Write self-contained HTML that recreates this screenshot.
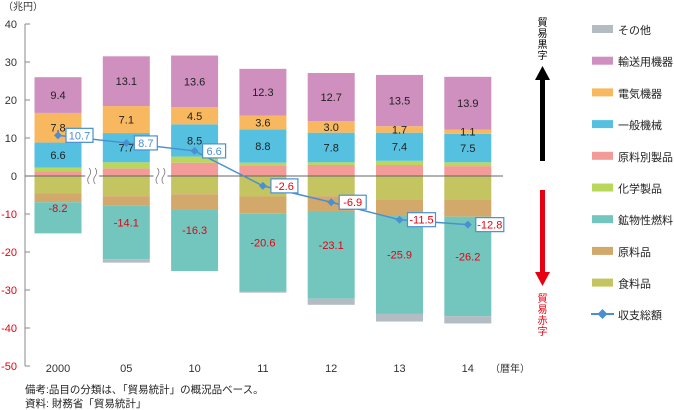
<!DOCTYPE html>
<html><head><meta charset="utf-8"><style>
body{margin:0;background:#fff;}
svg{display:block;font-family:"Liberation Sans","Noto Sans CJK JP",sans-serif;}
</style></head><body>
<svg id="chart" width="674" height="410" viewBox="0 0 674 410" xmlns="http://www.w3.org/2000/svg"></svg>
<script>
const categories=["2000","05","10","11","12","13","14"];
const posNames=["原料別製品","化学製品","一般機械","電気機器","輸送用機器"];
const genMach=[6.6,7.7,8.5,8.8,7.8,7.4,7.5];
const elecMach=[7.8,7.1,4.5,3.6,3.0,1.7,1.1];
const transEq=[9.4,13.1,13.6,12.3,12.7,13.5,13.9];
const mfgGoods=[1.2,2.0,3.5,2.8,2.9,2.9,2.6];
const chemicals=[1.0,1.6,1.6,0.7,0.7,1.1,1.0];
const foods=[-4.6,-5.3,-4.8,-5.4,-5.3,-6.1,-6.1];
const rawMat=[-2.3,-2.5,-3.9,-4.4,-3.9,-4.3,-4.6];
const fuels=[-8.2,-14.1,-16.3,-20.6,-23.1,-25.9,-26.2];
const others=[0,-0.9,0,-0.3,-1.6,-2.0,-1.9];
const balance=[10.7,8.7,6.6,-2.6,-6.9,-11.5,-12.8];
const yTicks=[40,30,20,10,0,-10,-20,-30,-40,-50];

const svg=document.getElementById('chart');
const NS='http://www.w3.org/2000/svg';
function mk(t,a,p){const e=document.createElementNS(NS,t);for(const k in a)e.setAttribute(k,a[k]);(p||svg).appendChild(e);return e;}
const y=v=>176-v*3.8;
const x=i=>58+i*68.3;
const BW=47;
const C={grey:"#b4bcc3",purple:"#cf8fbf",orange:"#f8b860",blue:"#55c0e0",pink:"#f29b98",lime:"#b9d85a",teal:"#73c6bd",tan:"#d3a86b",olive:"#c4c460"};

// y axis
const ax=mk('line',{x1:25,y1:24,x2:25,y2:366,stroke:'#888','stroke-width':1});

yTicks.forEach(v=>{
  const l=mk('line',{x1:25,x2:30,y1:y(v),y2:y(v),stroke:'#888'});
  
  const t=mk('text',{x:17,y:y(v)+4,'text-anchor':'end','font-size':11,fill:v<0?'#e60012':'#333'});
  t.textContent=v;
  
});
const yu=mk('text',{x:3,y:10,'font-size':10,fill:'#333'});yu.textContent='（兆円）';


// bars
const posSeries=[[mfgGoods,C.pink],[chemicals,C.lime],[genMach,C.blue],[elecMach,C.orange],[transEq,C.purple]];
const negSeries=[[foods,C.olive],[rawMat,C.tan],[fuels,C.teal],[others,C.grey]];
categories.forEach((c,i)=>{
  const g=mk('g',{});
  
  let acc=0;
  posSeries.forEach(([arr,col])=>{
    const v=arr[i];
    const r=mk('rect',{x:x(i)-BW/2,y:y(acc+v),width:BW,height:v*3.8,fill:col},g);
    
    acc+=v;
  });
  acc=0;
  negSeries.forEach(([arr,col])=>{
    const v=arr[i];
    const r=mk('rect',{x:x(i)-BW/2,y:y(acc),width:BW,height:-v*3.8,fill:col},g);
    
    acc+=v;
  });
  // labels
  const lab=(v,cy,col)=>{const t=mk('text',{x:x(i),y:cy+4,'text-anchor':'middle','font-size':11,fill:col},g);t.textContent=v.toFixed(1);
    };
  const b1=mfgGoods[i]+chemicals[i];
  lab(genMach[i],y(b1+genMach[i]/2),'#222');
  lab(elecMach[i],y(b1+genMach[i]+elecMach[i]/2),'#222');
  lab(transEq[i],y(b1+genMach[i]+elecMach[i]+transEq[i]/2),'#222');
  const n1=foods[i]+rawMat[i];
  lab(fuels[i],y(n1+fuels[i]/2)-10,'#e60012');
  const xl=mk('text',{x:x(i),y:372,'text-anchor':'middle','font-size':11,fill:'#333'});xl.textContent=c;
  
});
const xu=mk('text',{x:490,y:372,'font-size':10,fill:'#333'});xu.textContent='（暦年）';


// zero line
const z=mk('line',{x1:25,x2:503,y1:y(0),y2:y(0),stroke:'#666','stroke-width':1});

// break marks
[0.5,1.5].forEach(k=>{
  const bx=x(0)+k*68.3;
  const g=mk('g',{});
  
  mk('rect',{x:bx-7,y:y(0)-7,width:14,height:14,fill:'#fff'},g);
  [-3,3].forEach(d=>mk('path',{d:`M${bx+d} ${y(0)-8} q3 4 0 8 q-3 4 0 8`,stroke:'#777',fill:'none','stroke-width':0.8},g));
});

// balance line
let pts=balance.map((v,i)=>`${x(i)},${y(v)}`).join(' ');
const pl=mk('polyline',{points:pts,fill:'none',stroke:'#4a90d0','stroke-width':1.5});

balance.forEach((v,i)=>{
  const px=x(i),py=y(v);
  const m=mk('path',{d:`M${px} ${py-4} L${px+4} ${py} L${px} ${py+4} L${px-4} ${py}Z`,fill:'#4a90d0'});
  
  const w=v<=-10?28:(String(v).length>3?27:23);
  const r=mk('rect',{x:px+8,y:py-7,width:w,height:14,fill:'#fff',stroke:'#4a90d0','stroke-width':1.2});
  
  const t=mk('text',{x:px+8+w/2,y:py+4,'text-anchor':'middle','font-size':11,fill:v<0?'#e60012':'#4a90d0'});
  t.textContent=v.toFixed(1);
  
});

// arrows
const a1=mk('g',{});
mk('rect',{x:540,y:78,width:5,height:83,fill:'#000'},a1);
mk('path',{d:'M535 80 L542.5 66 L550 80Z',fill:'#000'},a1);
const a2=mk('g',{});
mk('rect',{x:540,y:190,width:5,height:84,fill:'#e60012'},a2);
mk('path',{d:'M535 272 L542.5 286 L550 272Z',fill:'#e60012'},a2);
const vt=(s,y0,col,name)=>{[...s].forEach((ch,k)=>{const t=mk('text',{x:542.5,y:y0+k*11,'text-anchor':'middle','font-size':10,fill:col});t.textContent=ch;
  });};
vt('貿易黒字',26,'#000','surplus-label');
vt('貿易赤字',302,'#e60012','deficit-label');

// legend
const leg=[["その他",C.grey],["輸送用機器",C.purple],["電気機器",C.orange],["一般機械",C.blue],["原料別製品",C.pink],["化学製品",C.lime],["鉱物性燃料",C.teal],["原料品",C.tan],["食料品",C.olive]];
leg.forEach(([n,c],k)=>{
  const ly=29+k*31.7;
  const g=mk('g',{});
  mk('rect',{x:592,y:ly-4,width:21,height:8,fill:c},g);
  const t=mk('text',{x:618,y:ly+5,'font-size':11,fill:'#222'},g);t.textContent=n;
});
const lg=mk('g',{});
mk('line',{x1:591,x2:614,y1:314,y2:314,stroke:'#4a90d0','stroke-width':2},lg);
mk('path',{d:'M602.5 309 L607.5 314 L602.5 319 L597.5 314Z',fill:'#4a90d0'},lg);
const lt=mk('text',{x:618,y:319,'font-size':11,fill:'#222'},lg);lt.textContent='収支総額';

// notes
const n1=mk('text',{x:25,y:393,'font-size':10.5,fill:'#222'});n1.textContent='備考:品目の分類は、「貿易統計」の概況品ベース。';

const n2=mk('text',{x:25,y:407,'font-size':10.5,fill:'#222'});n2.textContent='資料: 財務省「貿易統計」';

</script>
</body></html>
